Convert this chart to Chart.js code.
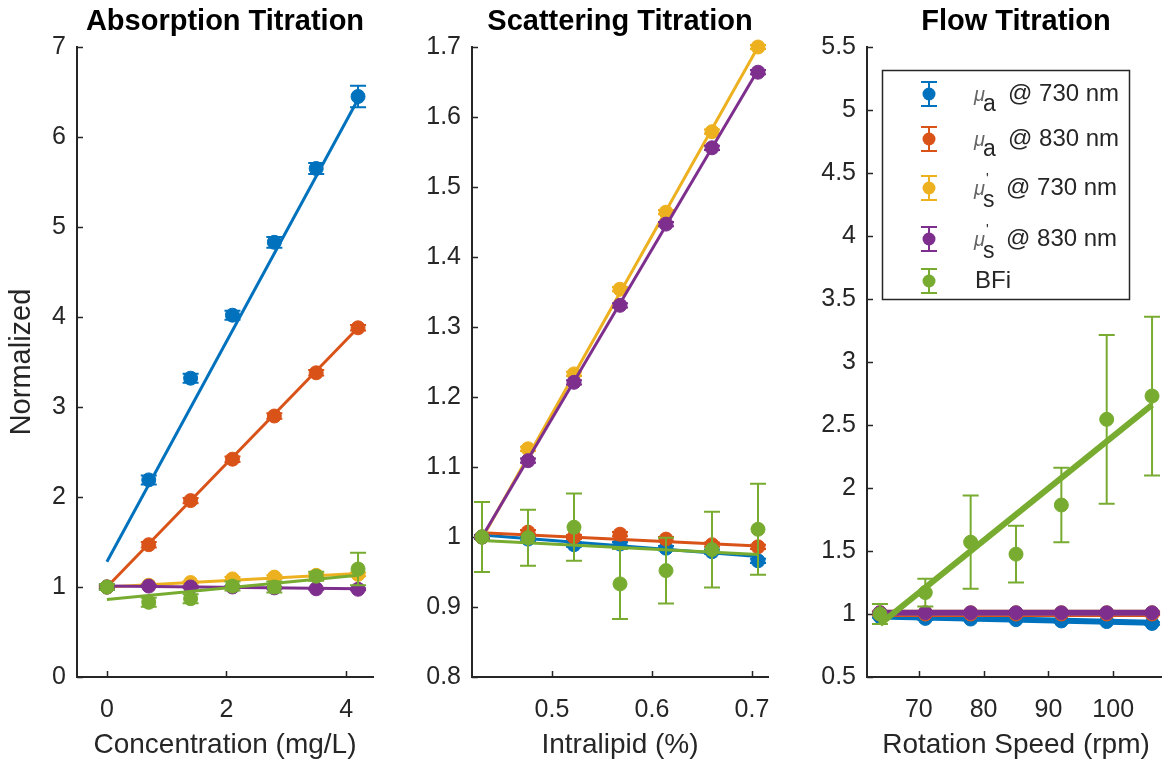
<!DOCTYPE html>
<html>
<head>
<meta charset="utf-8">
<title>Phantom titrations</title>
<script src="https://cdn.jsdelivr.net/npm/chart.js@4.4.1/dist/chart.umd.min.js"></script>
<style>
  html, body { margin: 0; padding: 0; background: #fff; overflow: hidden; }
  #wrap { position: relative; width: 1162px; height: 763px; overflow: hidden; }
  #wrap canvas { position: absolute; top: 0; }
</style>
</head>
<body>
<div id="wrap">
  <canvas id="absChart" width="395" height="763" style="left:0"></canvas>
  <canvas id="scatChart" width="395" height="763" style="left:395px"></canvas>
  <canvas id="flowChart" width="400" height="763" style="left:790px"></canvas>
</div>
<script>
// series order: mu_a 730, mu_a 830, mu_s' 730, mu_s' 830, BFi
const seriesColors = ['#0072BD', '#D95319', '#EDB120', '#7E2F8E', '#77AC30'];
const legendSubs = ['a', 'a', 's', 's', ''];
const legendTexts = ['@ 730 nm', '@ 830 nm', '@ 730 nm', '@ 830 nm', 'BFi'];

// absorption titration
const absConc = [0, 0.7, 1.4, 2.1, 2.8, 3.5, 4.2];
const absValues = [
  [1.00, 2.19, 3.32, 4.02, 4.83, 5.65, 6.45],
  [1.00, 1.47, 1.96, 2.42, 2.90, 3.38, 3.88],
  [1.00, 1.02, 1.05, 1.09, 1.11, 1.13, 1.14],
  [1.00, 1.01, 1.00, 1.00, 0.99, 0.98, 0.975],
  [1.00, 0.83, 0.87, 1.01, 1.00, 1.12, 1.20]
];
const absErrors = [
  [0.03, 0.05, 0.05, 0.05, 0.06, 0.06, 0.12],
  [0.02, 0.03, 0.03, 0.03, 0.03, 0.03, 0.03],
  [0.01, 0.01, 0.01, 0.02, 0.02, 0.02, 0.02],
  [0.01, 0.01, 0.01, 0.01, 0.01, 0.01, 0.01],
  [0.03, 0.05, 0.05, 0.05, 0.06, 0.05, 0.18]
];
const absFits = [[1.28, 6.42], [1.00, 3.88], [1.00, 1.15], [1.01, 0.98], [0.86, 1.13]];
const absXTicks = [0, 2, 4];
const absYTicks = [0, 1, 2, 3, 4, 5, 6, 7];

// scattering titration
const scatLipid = [0.430, 0.476, 0.522, 0.568, 0.614, 0.660, 0.706];
const scatValues = [
  [1.000, 0.997, 0.989, 0.990, 0.984, 0.979, 0.966],
  [1.000, 1.007, 1.000, 1.004, 0.997, 0.989, 0.986],
  [1.000, 1.126, 1.233, 1.354, 1.464, 1.579, 1.700],
  [1.000, 1.109, 1.221, 1.331, 1.447, 1.556, 1.664],
  [1.000, 0.999, 1.014, 0.933, 0.952, 0.982, 1.011]
];
const scatErrors = [
  [0.003, 0.003, 0.003, 0.003, 0.003, 0.003, 0.003],
  [0.003, 0.003, 0.003, 0.003, 0.003, 0.003, 0.003],
  [0.003, 0.003, 0.003, 0.003, 0.003, 0.003, 0.003],
  [0.003, 0.003, 0.003, 0.003, 0.003, 0.003, 0.003],
  [0.050, 0.040, 0.048, 0.050, 0.047, 0.054, 0.065]
];
const scatFits = [[1.003, 0.972], [1.006, 0.987], [0.998, 1.700], [1.000, 1.667], [0.995, 0.975]];
const scatXTicks = [0.5, 0.6, 0.7];
const scatYTicks = [0.8, 0.9, 1, 1.1, 1.2, 1.3, 1.4, 1.5, 1.6, 1.7];

// flow titration
const flowSpeed = [64, 71, 78, 85, 92, 99, 106];
const flowValues = [
  [0.98, 0.965, 0.96, 0.955, 0.945, 0.94, 0.925],
  [1.00, 1.00, 1.00, 1.00, 1.00, 1.00, 1.00],
  [1.01, 1.01, 1.01, 1.01, 1.01, 1.01, 1.01],
  [1.01, 1.01, 1.01, 1.01, 1.01, 1.01, 1.01],
  [1.00, 1.17, 1.57, 1.475, 1.865, 2.545, 2.73]
];
const flowErrors = [
  [0.01, 0.01, 0.01, 0.01, 0.01, 0.01, 0.01],
  [0.01, 0.01, 0.01, 0.01, 0.01, 0.01, 0.01],
  [0.01, 0.01, 0.01, 0.01, 0.01, 0.01, 0.01],
  [0.01, 0.01, 0.01, 0.01, 0.01, 0.01, 0.01],
  [0.08, 0.11, 0.37, 0.225, 0.295, 0.67, 0.63]
];
const flowFits = [[0.98, 0.93], [1.00, 1.00], [1.01, 1.01], [1.01, 1.01], [0.92, 2.66]];
const flowXTicks = [70, 80, 90, 100];
const flowYTicks = [0.5, 1, 1.5, 2, 2.5, 3, 3.5, 4, 4.5, 5, 5.5];

const FONT = "'Liberation Sans', Arial, Helvetica, sans-serif";
const AXIS_COLOR = '#262626';
Chart.defaults.font.family = FONT;
Chart.defaults.color = AXIS_COLOR;

// vertical error bars with caps, drawn under each dataset's markers
const errorBars = {
  id: 'errorBars',
  beforeDatasetDraw(chart, args) {
    const ds = chart.data.datasets[args.index];
    if (!ds.errors) return;
    const y = chart.scales.y;
    const ctx = chart.ctx;
    ctx.save();
    ctx.strokeStyle = ds.borderColor;
    ctx.lineWidth = 2;
    args.meta.data.forEach((pt, i) => {
      const v = ds.data[i].y;
      const e = ds.errors[i];
      const top = y.getPixelForValue(v + e);
      const bot = y.getPixelForValue(v - e);
      ctx.beginPath();
      ctx.moveTo(pt.x, top); ctx.lineTo(pt.x, bot);
      ctx.moveTo(pt.x - 8, top); ctx.lineTo(pt.x + 8, top);
      ctx.moveTo(pt.x - 8, bot); ctx.lineTo(pt.x + 8, bot);
      ctx.stroke();
    });
    ctx.restore();
  }
};

// matlab style tick marks pointing into the plot
const inwardTicks = {
  id: 'inwardTicks',
  beforeDatasetsDraw(chart) {
    const { ctx, chartArea: a, scales: { x, y } } = chart;
    ctx.save();
    ctx.strokeStyle = AXIS_COLOR;
    ctx.lineWidth = 1.5;
    ctx.beginPath();
    x.ticks.forEach(t => {
      const px = Math.round(x.getPixelForValue(t.value)) + 0.5;
      ctx.moveTo(px, a.bottom);
      ctx.lineTo(px, a.bottom - 6);
    });
    y.ticks.forEach(t => {
      const py = Math.round(y.getPixelForValue(t.value)) + 0.5;
      ctx.moveTo(a.left, py);
      ctx.lineTo(a.left + 6, py);
    });
    ctx.stroke();
    ctx.restore();
  }
};

// axes title centred over the plot box rather than the whole canvas
const axesTitle = {
  id: 'axesTitle',
  afterDraw(chart, args, opts) {
    const { ctx, chartArea: a } = chart;
    ctx.save();
    ctx.fillStyle = '#000';
    ctx.font = 'bold 29px ' + FONT;
    ctx.textAlign = 'center';
    ctx.textBaseline = 'middle';
    ctx.fillText(opts.text, (a.left + a.right) / 2, 22);
    ctx.restore();
  }
};

// legend box with error bar symbols and mu subscripts
const errLegend = {
  id: 'errLegend',
  afterDraw(chart, args, opts) {
    if (!opts.show) return;
    const ctx = chart.ctx;
    const box = { left: 92, top: 70, right: 339, bottom: 299 };
    const rows = [94, 139, 188, 239, 281];
    ctx.save();
    ctx.fillStyle = '#fff';
    ctx.fillRect(box.left, box.top, box.right - box.left, box.bottom - box.top);
    ctx.strokeStyle = AXIS_COLOR;
    ctx.lineWidth = 1.5;
    ctx.strokeRect(box.left + 0.5, box.top + 0.5, box.right - box.left, box.bottom - box.top);
    seriesColors.forEach((c, i) => {
      const cy = rows[i];
      const mx = 139;
      ctx.strokeStyle = c;
      ctx.lineWidth = 2;
      ctx.beginPath();
      ctx.moveTo(mx, cy - 12); ctx.lineTo(mx, cy + 12);
      ctx.moveTo(mx - 8, cy - 12); ctx.lineTo(mx + 8, cy - 12);
      ctx.moveTo(mx - 8, cy + 12); ctx.lineTo(mx + 8, cy + 12);
      ctx.stroke();
      ctx.fillStyle = c;
      ctx.beginPath();
      ctx.arc(mx, cy, 6.5, 0, Math.PI * 2);
      ctx.fill();

      ctx.fillStyle = AXIS_COLOR;
      ctx.textBaseline = 'middle';
      ctx.textAlign = 'left';
      const sub = legendSubs[i];
      if (!sub) {
        ctx.font = '24px ' + FONT;
        ctx.fillText(legendTexts[i], 185, cy);
        return;
      }
      ctx.font = 'italic 20px ' + FONT;
      ctx.fillStyle = '#666';
      ctx.fillText('\u03bc', 184, cy + 1);
      ctx.fillStyle = AXIS_COLOR;
      ctx.font = '23px ' + FONT;
      ctx.fillText(sub, 193, cy + (sub === 's' ? 13 : 11));
      if (sub === 's') {
        ctx.font = '14px ' + FONT;
        ctx.fillText("'", 196, cy - 9);
      }
      ctx.font = '24px ' + FONT;
      ctx.fillText(legendTexts[i], sub === 's' ? 216 : 218, cy);
    });
    ctx.restore();
  }
};

function buildDatasets(xs, values, errors, fits, fitWidth) {
  const list = [];
  values.forEach((vals, s) => {
    const color = seriesColors[s];
    list.push({
      data: xs.map((x, i) => ({ x, y: vals[i] })),
      errors: errors[s],
      borderColor: color,
      backgroundColor: color,
      pointRadius: 7,
      pointBorderWidth: 1,
      showLine: false,
      clip: false
    });
    list.push({
      data: [{ x: xs[0], y: fits[s][0] }, { x: xs[xs.length - 1], y: fits[s][1] }],
      borderColor: color,
      backgroundColor: color,
      borderWidth: fitWidth,
      pointRadius: 0,
      showLine: true,
      clip: false
    });
  });
  // chart.js paints index 0 last, so flip to keep later series on top
  return list.reverse();
}

function makePanel(id, p) {
  return new Chart(document.getElementById(id), {
    type: 'scatter',
    data: { datasets: buildDatasets(p.xs, p.values, p.errors, p.fits, p.fitWidth) },
    plugins: [errorBars, inwardTicks, axesTitle, errLegend],
    options: {
      responsive: false,
      animation: false,
      events: [],
      layout: { padding: { left: 0, right: p.padRight, top: 47, bottom: 0 } },
      plugins: {
        legend: { display: false },
        tooltip: { enabled: false },
        title: { display: false },
        axesTitle: { text: p.title },
        errLegend: { show: !!p.legend }
      },
      scales: {
        x: {
          type: 'linear',
          min: p.xMin,
          max: p.xMax,
          afterBuildTicks: s => { s.ticks = p.xTicks.map(v => ({ value: v })); },
          afterFit: s => { s.height = 86; },
          grid: { display: false, drawTicks: false },
          border: { display: true, color: AXIS_COLOR, width: 2 },
          ticks: { font: { size: 25 }, padding: 18, color: AXIS_COLOR, callback: v => String(v) },
          title: { display: true, text: p.xLabel, font: { size: 28 }, padding: { top: 0, bottom: 1 }, color: AXIS_COLOR }
        },
        y: {
          type: 'linear',
          min: p.yMin,
          max: p.yMax,
          afterBuildTicks: s => { s.ticks = p.yTicks.map(v => ({ value: v })); },
          afterFit: s => { s.width = 77; },
          grid: { display: false, drawTicks: false },
          border: { display: true, color: AXIS_COLOR, width: 2 },
          ticks: { font: { size: 25 }, padding: 11, color: AXIS_COLOR, callback: v => String(v) },
          title: { display: !!p.yLabel, text: p.yLabel || '', font: { size: 29 }, padding: { top: 5, bottom: 0 }, color: AXIS_COLOR }
        }
      }
    }
  });
}

makePanel('absChart', {
  title: 'Absorption Titration', xLabel: 'Concentration (mg/L)', yLabel: 'Normalized',
  xs: absConc, values: absValues, errors: absErrors, fits: absFits, fitWidth: 3,
  xMin: -0.5, xMax: 4.45, yMin: 0, yMax: 7, xTicks: absXTicks, yTicks: absYTicks, padRight: 22
});

makePanel('scatChart', {
  title: 'Scattering Titration', xLabel: 'Intralipid (%)',
  xs: scatLipid, values: scatValues, errors: scatErrors, fits: scatFits, fitWidth: 3,
  xMin: 0.42, xMax: 0.716, yMin: 0.8, yMax: 1.7, xTicks: scatXTicks, yTicks: scatYTicks, padRight: 22
});

makePanel('flowChart', {
  title: 'Flow Titration', xLabel: 'Rotation Speed (rpm)',
  xs: flowSpeed, values: flowValues, errors: flowErrors, fits: flowFits, fitWidth: 6,
  xMin: 62, xMax: 108, yMin: 0.5, yMax: 5.5, xTicks: flowXTicks, yTicks: flowYTicks, padRight: 25,
  legend: true
});
</script>
</body>
</html>
